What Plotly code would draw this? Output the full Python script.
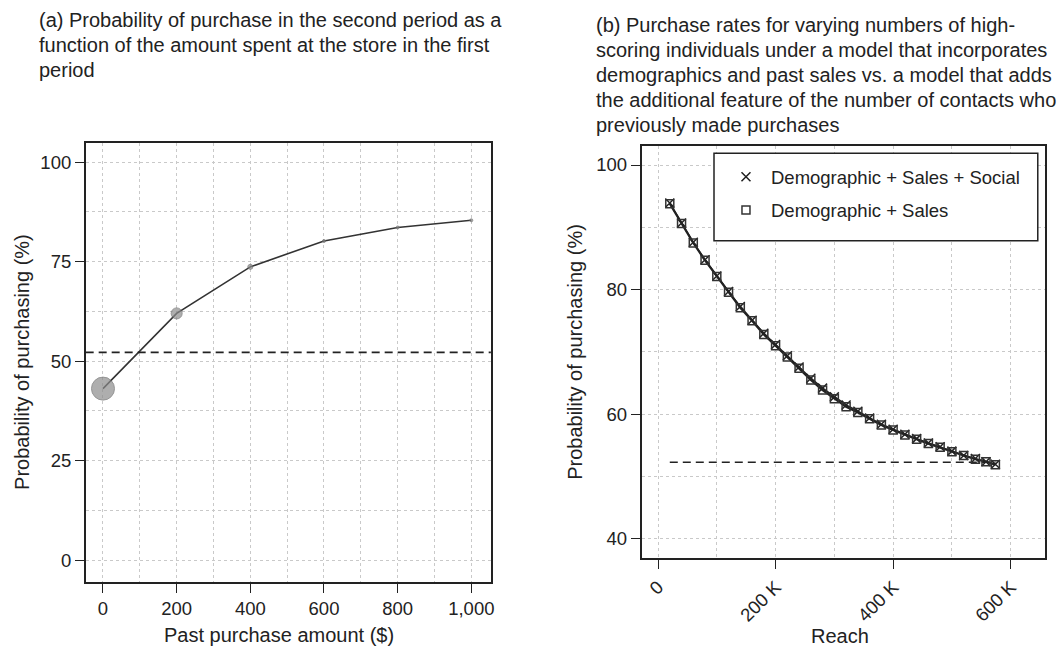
import plotly.graph_objects as go

# ---------------- data ----------------
past_amount = [0, 200, 400, 600, 800, 1000]
prob_a = [43.1, 62.0, 73.7, 80.2, 83.6, 85.4]
baseline_a = 52.2

reach_k = [20, 40, 60, 80, 100, 120, 140, 160, 180, 200, 220, 240, 260, 280, 300,
           320, 340, 360, 380, 400, 420, 440, 460, 480, 500, 520, 540, 558, 574]
prob_sales = [93.8, 90.6, 87.5, 84.7, 82.1, 79.6, 77.1, 75.0, 72.8, 71.0, 69.2, 67.4,
              65.5, 63.9, 62.5, 61.2, 60.3, 59.3, 58.3, 57.5, 56.7, 56.0, 55.3, 54.7,
              54.0, 53.4, 52.8, 52.4, 51.9]
prob_social = [93.9, 90.7, 87.6, 84.8, 82.2, 79.7, 77.3, 75.1, 73.0, 71.2, 69.4, 67.6,
               65.8, 64.2, 62.8, 61.5, 60.5, 59.4, 58.4, 57.6, 56.8, 56.1, 55.4, 54.8,
               54.1, 53.4, 52.9, 52.4, 52.0]
baseline_b = 52.3

reach_ticks = [0, 200000, 400000, 600000]
reach_ticktext = ["0", "200 K", "400 K", "600 K"]

title_a = ["(a) Probability of purchase in the second period as a",
           "function of the amount spent at the store in the first",
           "period"]
title_b = ["(b) Purchase rates for varying numbers of high-",
           "scoring individuals under a model that incorporates",
           "demographics and past sales vs. a model that adds",
           "the additional feature of the number of contacts who",
           "previously made purchases"]

reach = [r * 1000 for r in reach_k]

# ---------------- figure ----------------
W, H = 1063, 649
FONT = "Liberation Sans, Arial, sans-serif"
TXT = "#222222"
GRID = "#c9c9c9"
TICK_SIZE = 18.5
TITLE_SIZE = 20

fig = go.Figure()

# panel (a)
fig.add_trace(go.Scatter(
    x=past_amount, y=prob_a, mode="lines+markers",
    line=dict(color="#333333", width=1.6),
    marker=dict(size=[23, 11, 5, 3, 3, 3], color="#8c8c8c",
                line=dict(color="#6a6a6a", width=1)),
    showlegend=False, xaxis="x", yaxis="y"))

# panel (b) lines
fig.add_trace(go.Scatter(
    x=[reach[0], reach[-1]], y=[baseline_b, baseline_b], mode="lines",
    line=dict(color="#222222", width=1.6, dash="8px,5px"),
    showlegend=False, xaxis="x2", yaxis="y2"))
fig.add_trace(go.Scatter(
    x=reach, y=prob_sales, mode="lines",
    line=dict(color="#222222", width=2.2),
    showlegend=False, xaxis="x2", yaxis="y2"))
fig.add_trace(go.Scatter(
    x=reach, y=prob_social, mode="lines",
    line=dict(color="#222222", width=1.5),
    showlegend=False, xaxis="x2", yaxis="y2"))
fig.add_trace(go.Scatter(
    x=reach, y=prob_social, mode="markers", name="Demographic + Sales + Social",
    legendgroup="g1",
    marker=dict(symbol="x-thin-open", size=9, color="#222222",
                line=dict(color="#222222", width=1.5)),
    xaxis="x2", yaxis="y2"))
fig.add_trace(go.Scatter(
    x=reach, y=prob_sales, mode="markers", name="Demographic + Sales",
    legendgroup="g2",
    marker=dict(symbol="square-open", size=8, color="#333333",
                line=dict(color="#333333", width=1.5)),
    xaxis="x2", yaxis="y2"))

def px_x(p):
    return p / W

def px_y(p):
    return 1 - p / H

axis_common = dict(
    showline=True, linecolor="#222222", linewidth=1.5, mirror=True,
    ticks="outside", ticklen=9, tickwidth=1.2, tickcolor="#222222",
    showgrid=True, gridcolor=GRID, gridwidth=1, griddash="dot",
    zeroline=False,
    tickfont=dict(family=FONT, size=TICK_SIZE, color=TXT),
)

fig.update_layout(
    width=W, height=H, autosize=False,
    margin=dict(l=0, r=0, t=0, b=0),
    paper_bgcolor="white", plot_bgcolor="white",
    font=dict(family=FONT, size=TICK_SIZE, color=TXT),
    xaxis=dict(domain=[px_x(86), px_x(492.7)], range=[-47, 1053], anchor="y",
               tickvals=[0, 200, 400, 600, 800, 1000], tickformat=",",
               minor=dict(dtick=100, tick0=0, showgrid=True, gridcolor=GRID,
                          griddash="dot", ticks=""),
               **axis_common),
    yaxis=dict(domain=[px_y(582), px_y(142.7)], range=[-5.5, 104.9], anchor="x",
               tickvals=[0, 25, 50, 75, 100],
               minor=dict(dtick=12.5, tick0=0, showgrid=True, gridcolor=GRID,
                          griddash="dot", ticks=""),
               **axis_common),
    xaxis2=dict(domain=[px_x(644), px_x(1049.3)], range=[-28000, 659000], anchor="y2",
                tickvals=reach_ticks, ticktext=reach_ticktext, tickangle=-45,
                minor=dict(dtick=100000, tick0=0, showgrid=True, gridcolor=GRID,
                           griddash="dot", ticks=""),
                **axis_common),
    yaxis2=dict(domain=[px_y(558.3), px_y(146)], range=[36.9, 103.05], anchor="x2",
                tickvals=[40, 60, 80, 100],
                minor=dict(dtick=10, tick0=0, showgrid=True, gridcolor=GRID,
                           griddash="dot", ticks=""),
                **axis_common),
    legend=dict(x=px_x(723.7), y=px_y(158.3), xanchor="left", yanchor="top",
                bgcolor="rgba(0,0,0,0)", borderwidth=0,
                font=dict(family=FONT, size=TICK_SIZE, color=TXT),
                itemsizing="trace", traceorder="grouped", tracegroupgap=6,
                itemwidth=40),
    shapes=[
        dict(type="line", xref="x domain", yref="y", x0=0, x1=1,
             y0=baseline_a, y1=baseline_a,
             line=dict(color="#222222", width=1.6, dash="8px,5px")),
        # legend frame
        dict(type="rect", xref="paper", yref="paper", layer="above",
             x0=px_x(716.7), x1=px_x(1041.7), y0=px_y(240.7), y1=px_y(153.3),
             fillcolor="white", line=dict(color="#222222", width=1.5)),
    ],
)

annotations = []
for i, line in enumerate(title_a):
    annotations.append(dict(text=line, xref="paper", yref="paper",
                            x=px_x(37), y=px_y(20 + 25 * i), xanchor="left",
                            yanchor="middle", showarrow=False,
                            font=dict(family=FONT, size=TITLE_SIZE, color=TXT)))
for i, line in enumerate(title_b):
    annotations.append(dict(text=line, xref="paper", yref="paper",
                            x=px_x(596), y=px_y(25 + 25 * i), xanchor="left",
                            yanchor="middle", showarrow=False,
                            font=dict(family=FONT, size=TITLE_SIZE, color=TXT)))

# axis titles
axis_titles = [
    ("Past purchase amount ($)", 280.5, 634.5, 0),
    ("Probability of purchasing (%)", 22, 362, -90),
    ("Reach", 843, 635.5, 0),
    ("Probability of purchasing (%)", 577, 352, -90),
]
for text, xx, yy, ang in axis_titles:
    annotations.append(dict(text=text, xref="paper", yref="paper",
                            x=px_x(xx), y=px_y(yy), xanchor="center",
                            yanchor="middle", textangle=ang, showarrow=False,
                            font=dict(family=FONT, size=TITLE_SIZE, color=TXT)))
fig.update_layout(annotations=annotations)

fig.write_html(
    "out.html",
    config={"displayModeBar": False},
    post_script="document.documentElement.style.margin='0';"
                "document.body.style.margin='0';"
                "document.body.style.overflow='hidden';",
)
